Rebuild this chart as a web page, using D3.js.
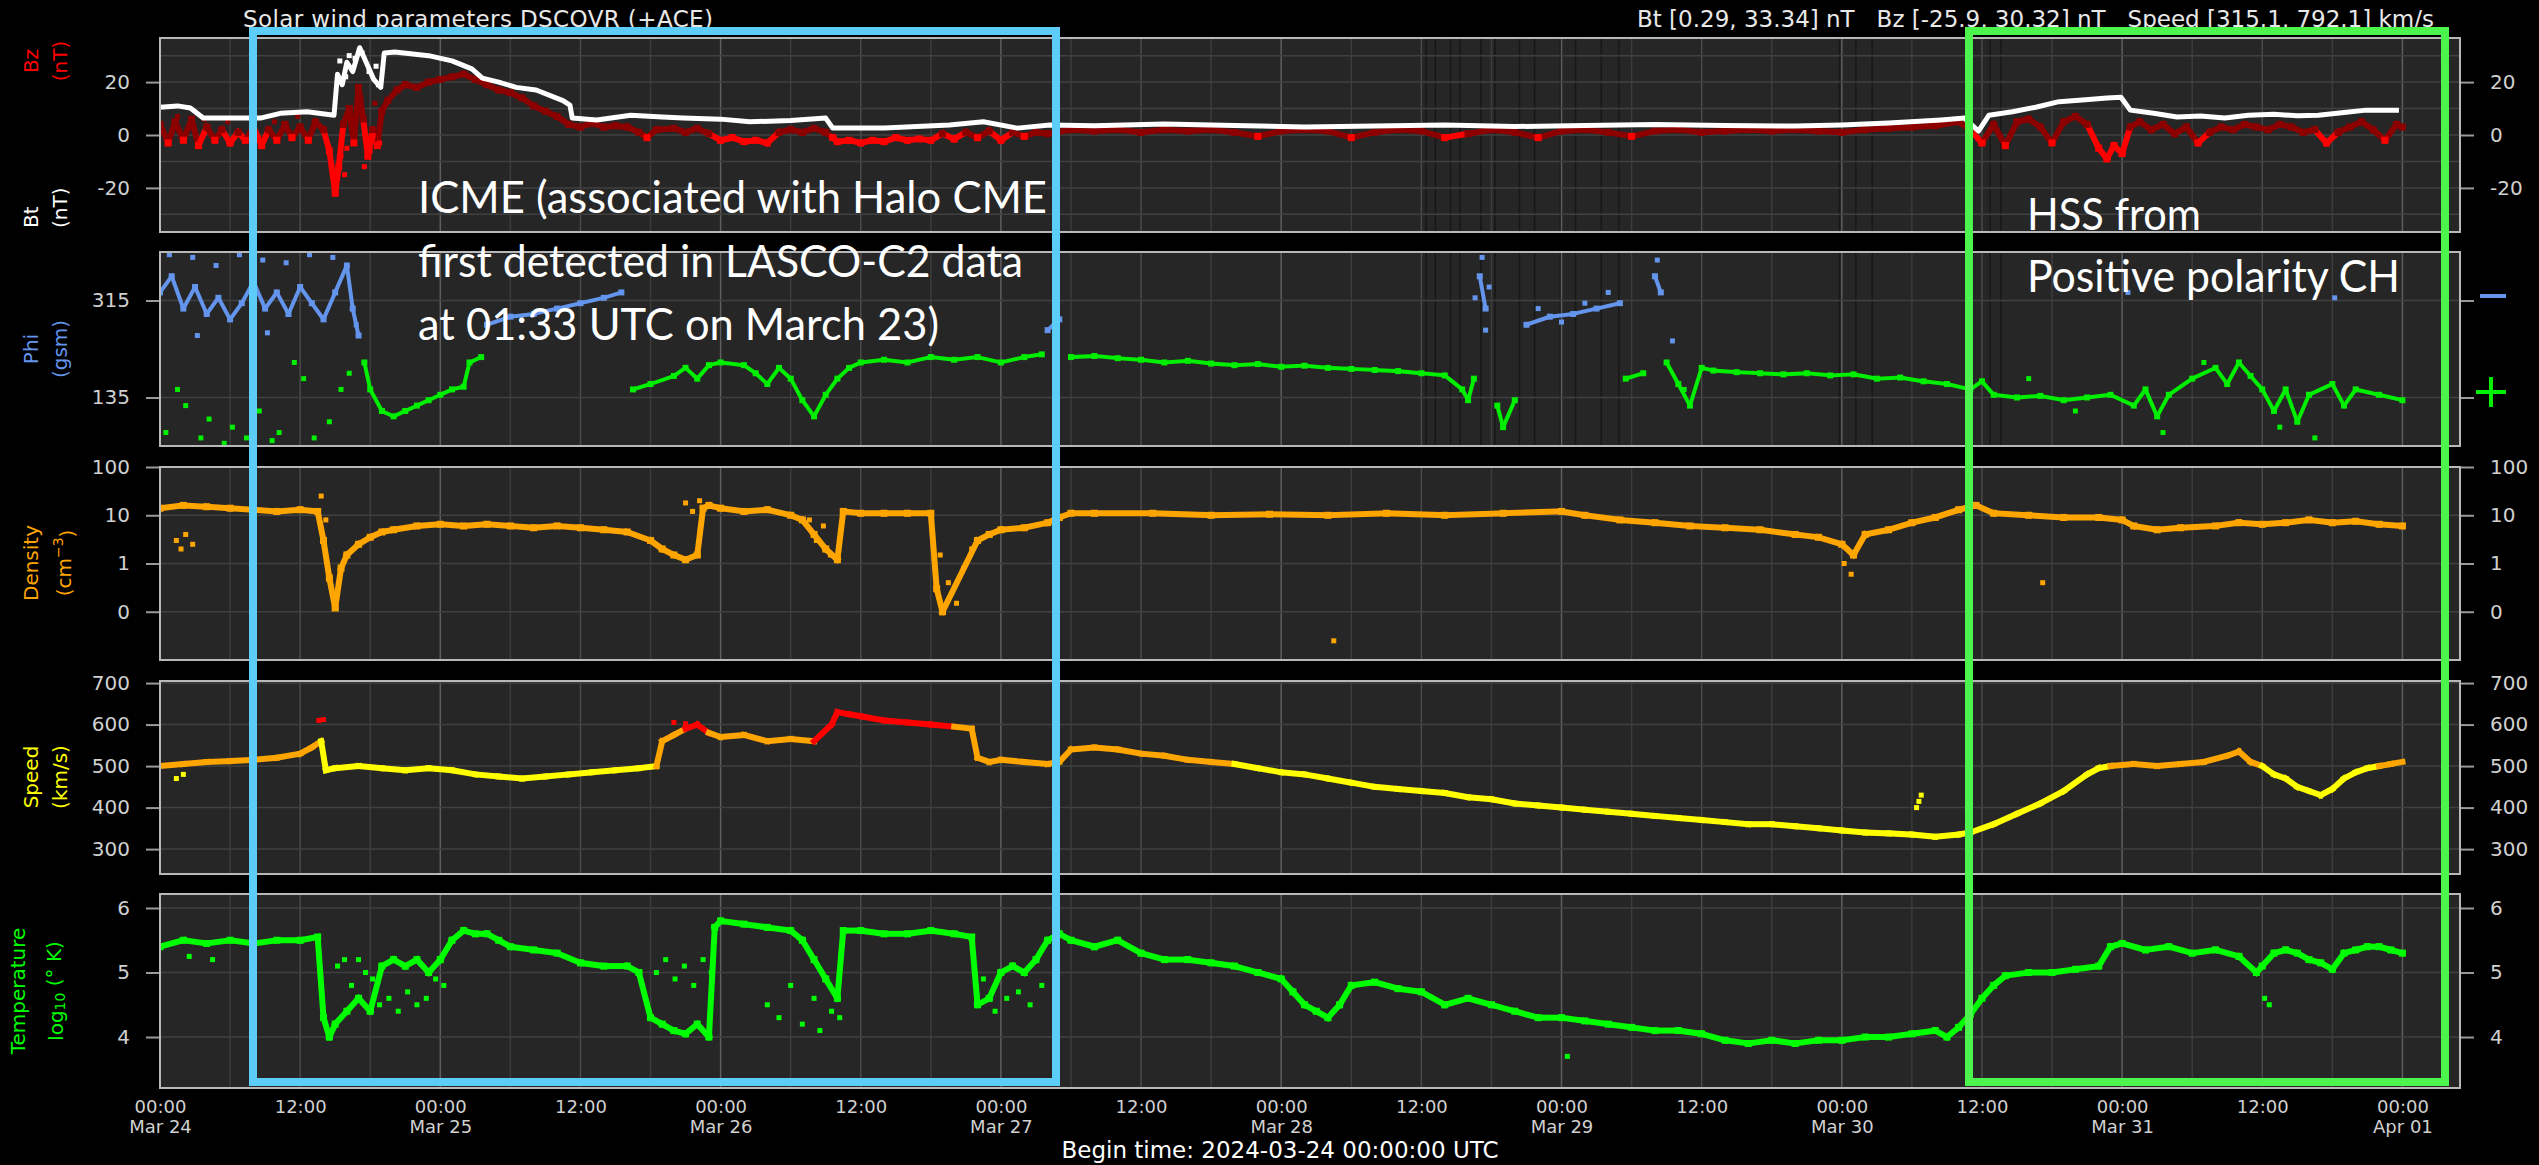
<!DOCTYPE html>
<html><head><meta charset="utf-8">
<script src="https://cdn.jsdelivr.net/npm/d3@7"></script>
<style>
body{margin:0;background:#000;}
svg{display:block;}
text{font-family:"DejaVu Sans",sans-serif;white-space:pre;}
</style></head><body><svg id="c" width="2539" height="1165"></svg>
<script>
// ---------------- DATA (hours since 2024-03-24 00:00 UTC) ----------------
const btT = [0,1.5,2.6,3.7,6,8.6,10.3,12.6,14.9,15.2,15.6,16,16.5,17.1,17.7,18.3,18.9,19.2,20.1,23,25,26.7,27.6,29,30.5,32.2,34.5,35.1,35.3,37.4,40.3,43,44.8,48,50.5,54,57,57.6,62,67.6,70.5,73.4,76.2,80,86,92,98,104,110,116,122,128,134,140,144,148,152.5,154.5,155.7,156.6,158.6,160.6,162.6,164.6,166.7,167.9,168.7,170.7,172.7,174.7,176.8,178.8,181,183,184.8,187,188.9,191.7];
const btV = [10.5,11,10.2,6.4,6.4,6.4,8.2,8.8,7.5,23,19,27.5,24,33,27,21,18,31,31.4,30,28,25,21.5,20,18,17,13,11.3,6.4,5.7,7.5,6.8,6.4,6,5,5.5,6.4,2.6,2.6,3.8,5,2.6,3.8,3.5,4.2,3.6,3.0,3.4,3.8,3.2,3.6,4.0,3.6,3.4,3.8,4.5,5.7,6.4,1.5,7.5,8.8,10.5,12.6,13.2,14,14.3,9.4,8.2,6.8,7.2,6.4,7.5,7.8,7.3,7.5,8.5,9.4,9.4];
const btScatT = [15.4,15.9,16.2,16.7,17.3,17.9,18.5,18.7];
const btScatV = [28,22,30,29,31,24,26,19];

const bzT = [0,0.7,1.3,2,2.7,3.3,4,4.7,5.3,6,6.7,7.3,8,8.7,9.3,10,10.7,11.3,12,12.7,13.3,14,14.5,15,15.3,15.7,16.2,16.6,17,17.4,17.8,18.2,18.6,19,19.5,20.3,21,22,23,24,25,26,27,28,29,30,31,32,33,34,35,36,37,38,39,40,41,41.7,42.5,44,45,46,47,48,49,50,51,52,53,54,55,56,57,57.6,58,59,60,61,62,63,64,65,66,67,68,69,70,71,72,73,74,75,76,78,80,82,84,86,88,90,92,94,96,98,100,102,104,106,108,110,112,114,116,118,120,122,124,126,128,130,132,134,136,138,140,142,144,146,148,150,152,154,155,156,157,158,159,160,161,162,163,164,165,166,166.7,167.3,168,168.7,169.5,170.5,171.5,172.5,173.5,174.5,175.5,176.5,177.5,178.5,179.5,180.5,181.5,182.5,183.5,184.5,185.5,186.5,187.5,188.5,189.5,190.5,191.5,192];
const bzV = [4,-3,5,-2,6,-4,3,-2,2,-3,1,-2,3,-4,2,-2,4,-1,3,-2,5,2,-6,-22,-12,4,10,-3,18,6,-8,2,-4,9,13,17,19,18,20,21,22,23,21,19,17,16,14,11,9,7,4,3,4.5,3,3.5,3,1,-1,2,2.5,1,2.5,0.5,-2,-1,-2.5,-2,-3,1,2,1,2.5,1,-1,-2.5,-2,-3,-2,-2.5,-1,-2,-1.5,-2,0.5,-1.5,1,-1,1.5,-2,1,-0.5,1,0.5,2,1.5,2,1,2,1.5,2,1,-0.5,1.5,2,1.5,-1,1,2,1.5,-1,0.5,2,1,-1,1.5,2,1,-0.5,1.5,2,1,1.5,2,1.5,2,1.5,1,2,2.5,3,3.5,5,2,-3,4,-4,5,6,3,-3,5,7,4,-5,-9,-4,-7,3,5,2,4,0.5,3,-3,1,3,2,4,3,2,4,3,1,2,-3,1,3,5,2,-2,4,3];
const bzScatT = [15.1,15.5,15.8,16,16.4,17.2,17.5,18,18.4,18.8,1.5,3.8,5.8,7.8,9.8,11.8];
const bzScatV = [-18,-8,-15,-5,6,14,-12,-6,12,-3,7,6,5,6,5,7];

const phiT = [0,1,2,3,4,5,6,7,8,9,10,11,12,13,14,15,16,16.5,17,17.5,18,19,20,21,22,23,24,25,26,26.5,27.5,28,30,32,34,36,38,39.5,40.5,42,44,45,46,47,48,50,51,52,53,54,55,56,57,58,59,60,62,64,66,68,70,72,74,75.5,76,77,78,80,82,84,86,88,90,92,94,96,98,100,102,104,106,108,110,111.5,112,112.5,113,113.5,114.5,115,116,117,119,121,123,125,125.5,127,128,128.5,129,130,131,132,133,135,137,139,141,143,145,147,149,151,153,155,156,157,159,161,163,165,167,169,170,171,172,174,176,177,178,179,180,181,182,183,184,186,187,188,190,192];
const phiV = [330,360,300,340,290,320,280,310,350,300,330,290,340,310,280,330,380,300,250,200,150,110,100,110,120,130,140,150,155,200,210,270,285,290,300,310,320,330,150,160,175,190,170,195,200,195,180,160,190,170,130,100,140,170,190,200,205,200,210,205,210,200,210,215,260,280,210,212,208,205,200,203,198,195,197,192,194,190,188,186,184,180,176,150,130,170,360,300,120,80,130,270,285,290,300,310,170,180,360,330,200,160,120,190,185,182,180,178,180,176,178,170,172,165,160,150,165,140,135,138,130,135,140,120,150,100,140,170,190,160,200,175,150,110,150,90,140,160,120,150,140,130];
// isolated phi points (scattered samples away from the main trace)
const phiScatT = [0.5,1.5,2.2,3.5,4.2,5.5,6.2,7.4,8.5,9.6,10.2,11.5,12.3,13.2,14.5,15.5,16.2,0.8,2.8,4.8,6.8,8.8,10.8,12.8,14.8,16.8,3.2,9.2,113.2,113.8,128.2,168.5,186.2,118,120,122,124,112.6,113.5,129.5,130.5,160,164,171.5,175,181.5,184.5];
const phiScatV = [70,150,120,60,95,50,80,60,110,55,70,200,170,60,90,150,180,400,395,380,400,390,385,400,395,270,250,255,395,340,390,330,320,300,275,310,330,320,260,240,150,170,110,70,200,80,60,100];

const nT = [0,2,4,6,8,10,12,13.5,14,14.5,15,15.5,16,17,18,19,20,22,24,26,28,30,32,34,36,38,40,42,43,44,45,46,46.5,47,48,50,52,54,55,56,57,58,58.5,60,62,64,66,66.5,67,70,71,72,74,76,77,78,80,85,90,95,100,105,110,115,120,122,125,128,131,134,137,140,142,144,145,146,148,150,152,154,155.5,157,160,163,166,168,169,171,173,176,178,180,182,184,186,188,190,192];
const nV = [14,16,15,14,13,12,13,12,3,0.5,0.12,0.8,1.5,2.5,3.5,4.5,5,6,6.5,6,6.5,6,5.5,6,5.5,5,4.5,3,2,1.5,1.2,1.5,14,16,14,12,13,10,8,4,2,1.2,12,11,11,11,11,0.3,0.1,3,4,5,5.5,7,9,11,11,11,10,10.5,10,11,10,11,12,10,8,7,6,5.5,5,4,3.5,2.5,1.5,4,5,7,9,13,16,11,10,9,9,8,6,5,5.5,6,7,6.5,7,8,7,7.5,6.5,6];
const nScatT = [1.4,1.8,2.2,2.8,45,45.6,46.2,55.6,56.2,56.8,57.4,66.8,67.5,68.2,68.8,69.5,100.5,144.2,144.8,161.2,13.8,14.2];
const nScatV = [3,2,4,2.5,18,12,20,8,3,6,1.5,1.5,0.4,0.15,0.8,2,0.025,1.0,0.6,0.4,25,8];

const vT = [0,2,4,6,8,10,12,13,13.8,14.2,15,17,19,21,23,25,27,29,31,33,35,37,39,41,42.5,43,44,45,46,47,48,50,52,54,56,57.5,58,59,60,62,64,66,68,69.5,70,71,72,74,76,77,78,80,82,84,86,88,90,92,94,96,98,100,102,104,106,108,110,112,114,116,118,120,122,124,126,128,130,132,134,136,138,140,142,144,146,148,150,152,154,155,157,159,161,163,165,166,167,169,171,173,175,177,178,179,180,181,182,183,184,185,186,187,188,189,190,191,192];
const vV = [500,505,510,512,515,520,530,545,560,490,495,500,495,490,495,490,480,475,470,475,480,485,490,495,500,560,575,590,600,580,570,575,560,565,560,600,630,625,620,610,605,600,595,590,520,510,515,510,505,510,540,545,540,530,525,515,510,505,495,485,480,470,460,450,445,440,435,425,420,410,405,400,395,390,385,380,375,370,365,360,360,355,350,345,340,338,335,330,335,340,360,385,410,440,480,495,500,505,500,505,510,525,535,510,500,480,470,450,440,430,445,470,485,495,500,505,510];
const vScatT = [1.4,2.0,13.6,14.0,150.4,150.6,150.8,44,45];
const vScatV = [470,480,610,612,400,415,430,605,602];

const tempT = [0,2,4,6,8,10,12,13.5,14,14.5,15,16,17,18,19,20,21,22,23,24,25,26,27,28,29,30,32,34,36,38,40,41,42,43,44,45,46,47,47.5,48,50,52,54,55,56,57,58,58.5,60,62,64,66,68,69.5,70,71,72,73,74,75,76,77,78,80,82,84,86,88,90,92,94,96,97,98,99,100,101,102,104,106,108,110,112,114,116,118,120,122,124,126,128,130,132,134,136,138,140,142,144,146,148,150,152,153,154,155,156,157,158,160,162,164,166,167,168,170,172,174,176,178,179.5,180,181,182,183,184,185,186,187,188,189,190,191,192];
const tempV = [5.4,5.5,5.45,5.5,5.45,5.5,5.5,5.55,4.3,4.0,4.2,4.4,4.6,4.4,5.1,5.2,5.1,5.2,5.0,5.2,5.5,5.65,5.6,5.6,5.5,5.4,5.35,5.3,5.15,5.1,5.1,5.0,4.3,4.2,4.1,4.05,4.2,4.0,5.7,5.8,5.75,5.7,5.65,5.5,5.2,4.9,4.6,5.65,5.65,5.6,5.6,5.65,5.6,5.55,4.5,4.6,5.0,5.1,5.0,5.2,5.5,5.6,5.5,5.4,5.5,5.3,5.2,5.2,5.15,5.1,5.0,4.9,4.7,4.5,4.4,4.3,4.5,4.8,4.85,4.75,4.7,4.5,4.6,4.5,4.4,4.3,4.3,4.25,4.2,4.15,4.1,4.1,4.05,3.95,3.9,3.95,3.9,3.95,3.95,4.0,4.0,4.05,4.1,4.0,4.15,4.35,4.6,4.8,4.95,5.0,5.0,5.05,5.1,5.4,5.45,5.35,5.4,5.3,5.35,5.25,5.0,5.1,5.3,5.35,5.3,5.2,5.15,5.05,5.3,5.35,5.4,5.4,5.35,5.3];
const tempScatT = [15.2,15.8,16.4,17,17.6,18.2,18.8,19.6,20.4,21.2,22,22.8,23.6,24.3,42.5,43.3,44.1,44.9,45.7,46.5,47.2,52,53,54,55,56,56.5,57.5,70.5,71.5,72.5,73.5,74.5,75.5,2.5,4.5,8,58.2,120.5,180.2,180.6];
const tempScatV = [5.1,5.2,4.8,5.2,5.0,4.9,4.5,4.6,4.4,4.7,4.5,4.6,4.9,4.8,5.0,5.2,4.9,5.1,4.8,5.2,5.0,4.5,4.3,4.8,4.2,4.6,4.1,4.4,4.9,4.4,4.6,4.7,4.5,4.8,5.25,5.2,5.3,4.3,3.7,4.6,4.5];

// times of the thin dark markers in the Bz/Phi panels
const markHours = [108.4,109.2,110.5,111.3,113.1,114.3,116.4,117.7,119.9,121.2,123.4,124.9,143.8,145.2,146.6,155.2,156.7,157.6];

const xTickHours = [0,12,24,36,48,60,72,84,96,108,120,132,144,156,168,180,192];
const bTicks = [-20,0,20];
const phiTicks = [135,315];
const nTicks = [0.1,1,10,100];
const vTicks = [300,400,500,600,700];
const tTicks = [4,5,6];

const titleLeft = "Solar wind parameters DSCOVR (+ACE)";
const titleRight = "Bt [0.29, 33.34] nT   Bz [-25.9, 30.32] nT   Speed [315.1, 792.1] km/s";
const beginText = "Begin time: 2024-03-24 00:00:00 UTC";
const icmeLines = ["ICME (associated with Halo CME","first detected in LASCO-C2 data","at 01:33 UTC on March 23)"];
const hssLines = ["HSS from","Positive polarity CH"];

// ---------------- LAYOUT ----------------
const t0 = Date.UTC(2024,2,24);
const D = h => new Date(t0 + h*3600e3);
const X0 = 160, X1 = 2460;
const x = d3.scaleUtc().domain([D(0), D(196.93)]).range([X0, X1]);
const svg = d3.select('#c');
svg.append('rect').attr('width',2539).attr('height',1165).attr('fill','#000');

const P = [
  {top:38,bottom:232, y:d3.scaleLinear().domain([-36.67,36.67]).range([232,38]), ticks:bTicks, grid:[-30,-20,-10,0,10,20,30], fmt:d=>d},
  {top:252,bottom:446, y:d3.scaleLinear().domain([45,405]).range([446,252]), ticks:phiTicks, grid:phiTicks, fmt:d=>d, noRight:true},
  {top:467,bottom:660, y:d3.scaleLog().domain([0.01,100]).range([660,467]), ticks:nTicks, grid:[0.1,1,10], fmt:d=>d<1?"0":String(d)},
  {top:681,bottom:874, y:d3.scaleLinear().domain([240,705]).range([874,681]), ticks:vTicks, grid:vTicks, fmt:d=>d},
  {top:894,bottom:1088, y:d3.scaleLinear().domain([3.21,6.217]).range([1088,894]), ticks:tTicks, grid:tTicks, fmt:d=>d},
];

const grid6 = d3.utcHour.every(6).range(D(0), D(196.93));
const defs = svg.append('defs');
P.forEach((p,i)=>{
  const g = svg.append('g');
  g.append('rect').attr('x',X0).attr('y',p.top).attr('width',X1-X0).attr('height',p.bottom-p.top).attr('fill','#262626');
  if(i<2){
    g.selectAll('line.m').data(markHours).enter().append('line')
      .attr('x1',d=>x(D(d))).attr('x2',d=>x(D(d))).attr('y1',p.top).attr('y2',p.bottom)
      .attr('stroke','#171717').attr('stroke-width',1.5);
  }
  g.selectAll('line.v').data(grid6).enter().append('line')
    .attr('x1',d=>x(d)).attr('x2',d=>x(d)).attr('y1',p.top).attr('y2',p.bottom)
    .attr('stroke',d=>d.getUTCHours()===0?'#5e5e5e':(d.getUTCHours()===12?'#4a4a4a':'#3c3c3c')).attr('stroke-width',1.5);
  g.selectAll('line.h').data(p.grid).enter().append('line')
    .attr('x1',X0).attr('x2',X1).attr('y1',d=>p.y(d)).attr('y2',d=>p.y(d))
    .attr('stroke','#404040').attr('stroke-width',1.5);
  defs.append('clipPath').attr('id','cp'+i).append('rect').attr('x',X0).attr('y',p.top).attr('width',X1-X0).attr('height',p.bottom-p.top);
  p.g = svg.append('g').attr('clip-path',`url(#cp${i})`);
});

function axes(p){
  const la = svg.append('g').attr('transform',`translate(${X0},0)`)
    .call(d3.axisLeft(p.y).tickValues(p.ticks).tickFormat(p.fmt).tickSize(14).tickPadding(16));
  const ra = svg.append('g').attr('transform',`translate(${X1},0)`)
    .call(d3.axisRight(p.y).tickValues(p.ticks).tickFormat(p.noRight?'':p.fmt).tickSize(14).tickPadding(16));
  [la,ra].forEach(a=>{
    a.select('.domain').remove();
    a.selectAll('line').attr('stroke','#9a9a9a').attr('stroke-width',2);
    a.selectAll('text').attr('fill','#d0d0d0').style('font-size','20px').style('font-family','DejaVu Sans');
  });
}
P.forEach(axes);

// ---------------- DATA MARKS ----------------
function segs(g, T, V, y, color, width, breakFn){
  for(let i=0;i<T.length-1;i++){
    if(breakFn && breakFn(V[i],V[i+1])) continue;
    g.append('line').attr('x1',x(D(T[i]))).attr('y1',y(V[i])).attr('x2',x(D(T[i+1]))).attr('y2',y(V[i+1]))
      .attr('stroke',color(V[i],V[i+1])).attr('stroke-width',width).attr('stroke-linecap','square');
  }
}
function dots(g,T,V,y,color,s){
  g.selectAll(null).data(T).enter().append('rect')
    .attr('x',(d,i)=>x(D(d))-s/2).attr('y',(d,i)=>y(V[i])-s/2).attr('width',s).attr('height',s)
    .attr('fill',(d,i)=>color(V[i],V[i]));
}
// Bz
const bzCol = (a,b)=>((a+b)/2>=0?'#8c0000':'#ff0000');
segs(P[0].g, bzT, bzV, P[0].y, bzCol, 6);
dots(P[0].g, bzT, bzV, P[0].y, bzCol, 7);
dots(P[0].g, bzScatT, bzScatV, P[0].y, bzCol, 5);
// Bt
P[0].g.append('path').datum(btT.map((t,i)=>[t,btV[i]]))
  .attr('d',d3.line().x(d=>x(D(d[0]))).y(d=>P[0].y(d[1])))
  .attr('fill','none').attr('stroke','#ffffff').attr('stroke-width',5).attr('stroke-linejoin','round');
dots(P[0].g, btScatT, btScatV, P[0].y, ()=>'#ffffff', 5);
// Phi
const phiCol = (a,b)=>(a>=225?'#6495ed':'#00ee00');
segs(P[1].g, phiT, phiV, P[1].y, phiCol, 4, (a,b)=>((a>=225)!==(b>=225)));
dots(P[1].g, phiT, phiV, P[1].y, phiCol, 6);
dots(P[1].g, phiScatT, phiScatV, P[1].y, phiCol, 5);
// Density
const nCol = ()=>'#ffa500';
segs(P[2].g, nT, nV, P[2].y, nCol, 6);
dots(P[2].g, nT, nV, P[2].y, nCol, 7);
dots(P[2].g, nScatT, nScatV, P[2].y, nCol, 5);
// Speed
const vCol = (a,b)=>{const m=Math.max(a,b); return m>=600?'#ff0000':(Math.min(a,b)>=500?'#ffa500':'#ffff00');};
segs(P[3].g, vT, vV, P[3].y, vCol, 6);
dots(P[3].g, vScatT, vScatV, P[3].y, vCol, 5);
// Temperature
const tCol = ()=>'#00ff00';
segs(P[4].g, tempT, tempV, P[4].y, tCol, 6);
dots(P[4].g, tempT, tempV, P[4].y, tCol, 7);
dots(P[4].g, tempScatT, tempScatV, P[4].y, tCol, 5);

// panel borders
P.forEach(p=>{
  svg.append('rect').attr('x',X0).attr('y',p.top).attr('width',X1-X0).attr('height',p.bottom-p.top)
    .attr('fill','none').attr('stroke','#b8b8b8').attr('stroke-width',2);
});

// ---------------- X AXIS ----------------
const xa = svg.append('g').attr('transform',`translate(0,1088)`)
  .call(d3.axisBottom(x).tickValues(xTickHours.map(D)).tickSize(0).tickPadding(12).tickFormat(d3.utcFormat('%H:%M')));
xa.select('.domain').remove();
xa.selectAll('text').attr('fill','#d0d0d0').style('font-size','18px').each(function(d){
  if(d.getUTCHours()===0){
    d3.select(this).append('tspan').attr('x',0).attr('dy','1.15em').text(d3.utcFormat('%b %d')(d));
  }
});

// ---------------- AXIS LABELS ----------------
function vlabel(txt, cx, cy, color, anchor){
  return svg.append('text').attr('transform',`translate(${cx},${cy}) rotate(-90)`)
    .attr('text-anchor',anchor||'middle').attr('dominant-baseline','central')
    .attr('fill',color).style('font-size','20px').text(txt);
}
vlabel('Bz',31,61,'#ff0000'); vlabel('(nT)',60,61,'#ff0000');
vlabel('Bt',31,228,'#ffffff','start'); vlabel('(nT)',60,228,'#ffffff','start');
vlabel('Phi',31,349,'#6495ed'); vlabel('(gsm)',60,349,'#6495ed');
vlabel('Density',31,563,'#ffa500');
const dl = vlabel('(cm',64,563,'#ffa500');
dl.append('tspan').attr('dy','-0.45em').style('font-size','14px').text('−3');
dl.append('tspan').attr('dy','0.45em').text(')');
vlabel('Speed',31,777,'#ffff00'); vlabel('(km/s)',60,777,'#ffff00');
vlabel('Temperature',18,991,'#00ff00');
const tl = vlabel('log',56,991,'#00ff00');
tl.append('tspan').attr('dy','0.3em').style('font-size','14px').text('10');
tl.append('tspan').attr('dy','-0.3em').text(' (° K)');

// phi sector symbols
svg.append('line').attr('x1',2480).attr('x2',2506).attr('y1',296).attr('y2',296).attr('stroke','#6495ed').attr('stroke-width',4);
svg.append('line').attr('x1',2476).attr('x2',2506).attr('y1',392).attr('y2',392).attr('stroke','#00ee00').attr('stroke-width',4);
svg.append('line').attr('x1',2491).attr('x2',2491).attr('y1',377).attr('y2',407).attr('stroke','#00ee00').attr('stroke-width',4);

// ---------------- TITLES ----------------
svg.append('text').attr('x',243).attr('y',27).attr('fill','#e8e8e8').style('font-size','23px')
  .attr('textLength',470).attr('lengthAdjust','spacing').text(titleLeft);
svg.append('text').attr('x',2434).attr('y',27).attr('text-anchor','end').attr('fill','#e8e8e8').style('font-size','23px').text(titleRight);
svg.append('text').attr('x',1280).attr('y',1158).attr('text-anchor','middle').attr('fill','#ffffff').style('font-size','23px').text(beginText);

// ---------------- ANNOTATIONS ----------------
svg.append('rect').attr('x',253).attr('y',31).attr('width',1056-253).attr('height',1082-31)
  .attr('fill','none').attr('stroke','#5bcdf8').attr('stroke-width',8);
svg.append('rect').attr('x',1969).attr('y',31).attr('width',2445-1969).attr('height',1082-31)
  .attr('fill','none').attr('stroke','#4cf54c').attr('stroke-width',8);
const icmeW=[629,605,521];
icmeLines.forEach((s,i)=>{
  svg.append('text').attr('x',418).attr('y',213+i*63.5).attr('fill','#ffffff')
    .style('font-family','Lato, "Open Sans", sans-serif').style('font-size','44px')
    .attr('textLength',icmeW[i]).attr('lengthAdjust','spacingAndGlyphs').text(s);
});
const hssW=[174,373];
hssLines.forEach((s,i)=>{
  svg.append('text').attr('x',2027).attr('y',230+i*62).attr('fill','#ffffff')
    .style('font-family','Lato, "Open Sans", sans-serif').style('font-size','44px')
    .attr('textLength',hssW[i]).attr('lengthAdjust','spacingAndGlyphs').text(s);
});
</script></body></html>
